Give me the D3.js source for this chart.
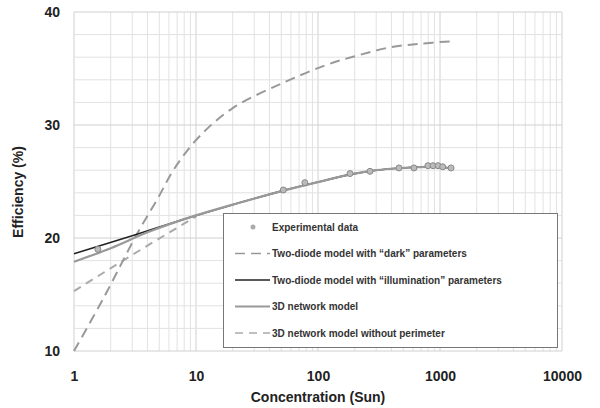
<!DOCTYPE html>
<html>
<head>
<meta charset="utf-8">
<script src="https://cdn.jsdelivr.net/npm/d3@7"></script>
<style>
body{margin:0;background:#fff}
text{font-family:"Liberation Sans",Arial,sans-serif}
</style>
</head>
<body>
<svg id="canvas" width="600" height="408"></svg>
<script>
// values
const xTicks=[1,10,100,1000,10000]
const yTicks=[10,20,30,40]

const expC=[1.57,52,78,183,267,461,612,796,877,963,1052,1232]
const expEff=[19.0,24.25,24.9,25.7,25.9,26.2,26.2,26.4,26.4,26.4,26.3,26.2]

const darkC=[1,1.73,3.3,4.8,6.7,10.7,20,51,116,219,400,700,1200]
const darkEff=[10,14.6,20.4,23.4,26.2,29.0,31.5,33.7,35.3,36.2,36.9,37.2,37.4]

const illumC=[1,3,10,20,50,100,200,300,500,800,1232]
const illumEff=[18.6,20.2,22.0,22.95,24.15,24.95,25.7,26.0,26.2,26.3,26.2]

const netC=[1,2,4,10,20,50,100,200,300,500,800,1232]
const netEff=[17.9,19.1,20.5,22.0,22.95,24.15,24.95,25.7,26.0,26.2,26.3,26.2]

const noPerC=[1,3,10]
const noPerEff=[15.3,18.5,21.9]

const legendLabels=["Experimental data",
  "Two-diode model with \u201cdark\u201d parameters",
  "Two-diode model with \u201cillumination\u201d parameters",
  "3D network model",
  "3D network model without perimeter"]

let canvas=d3.select("#canvas")
const x=d3.scaleLog().domain([1,10000]).range([74,562])
const y=d3.scaleLinear().domain([10,40]).range([351,12])

// grid
let minor=[]
for(let d=1;d<10000;d*=10) for(let k=1;k<10;k++) minor.push(d*k)
minor.push(10000)
canvas.append("g").selectAll("line").data(minor).enter().append("line")
  .attr("x1",d=>x(d)).attr("x2",d=>x(d)).attr("y1",y(10)).attr("y2",y(40))
  .attr("stroke",d=>xTicks.includes(d)?"#d0d0d0":"#e2e2e2").attr("stroke-width",1)
canvas.append("g").selectAll("line").data(d3.range(10,41,2)).enter().append("line")
  .attr("x1",x(1)).attr("x2",x(10000)).attr("y1",d=>y(d)).attr("y2",d=>y(d))
  .attr("stroke",d=>d%10==0?"#d0d0d0":"#e2e2e2").attr("stroke-width",1)

// axes
const xAxis=d3.axisBottom(x).tickValues(xTicks).tickFormat(d3.format("d")).tickSize(0).tickPadding(20)
canvas.append("g").attr("transform","translate(0,"+y(10)+")").call(xAxis)
  .call(g=>g.select(".domain").remove())
  .selectAll("text").attr("font-size",14).attr("font-weight","bold").attr("fill","#222")
const yAxis=d3.axisLeft(y).tickValues(yTicks).tickSize(0).tickPadding(14)
canvas.append("g").attr("transform","translate("+x(1)+",0)").call(yAxis)
  .call(g=>g.select(".domain").remove())
  .selectAll("text").attr("font-size",14).attr("font-weight","bold").attr("fill","#222")

canvas.append("text").attr("x",318).attr("y",402).attr("text-anchor","middle")
  .attr("font-size",14).attr("font-weight","bold").attr("fill","#222").text("Concentration (Sun)")
canvas.append("text").attr("transform","translate(23,192) rotate(-90)").attr("text-anchor","middle")
  .attr("font-size",14).attr("font-weight","bold").attr("fill","#222").text("Efficiency (%)")

const line=d3.line().x(d=>x(d[0])).y(d=>y(d[1])).curve(d3.curveMonotoneX)
const smooth=d3.line().x(d=>x(d[0])).y(d=>y(d[1])).curve(d3.curveCatmullRom.alpha(0.5))
const zip=(a,b)=>a.map((v,i)=>[v,b[i]])

const series=[
  {data:zip(noPerC,noPerEff),stroke:"#aaa",w:2,dash:"8,6",gen:line},
  {data:zip(darkC,darkEff),stroke:"#999",w:2,dash:"10,6",gen:smooth},
  {data:zip(illumC,illumEff),stroke:"#222",w:1.6,dash:null,gen:line},
  {data:zip(netC,netEff),stroke:"#999",w:2.2,dash:null,gen:line}
]
canvas.append("g").selectAll("path").data(series).enter().append("path")
  .attr("d",d=>d.gen(d.data)).attr("fill","none")
  .attr("stroke",d=>d.stroke).attr("stroke-width",d=>d.w)
  .attr("stroke-dasharray",d=>d.dash)

canvas.append("g").selectAll("circle").data(zip(expC,expEff)).enter().append("circle")
  .attr("cx",d=>x(d[0])).attr("cy",d=>y(d[1])).attr("r",3)
  .attr("fill","#bbb").attr("stroke","#888").attr("stroke-width",1)

// legend
let legend=canvas.append("g")
legend.append("rect").attr("x",223.5).attr("y",213.5).attr("width",334).attr("height",134)
  .attr("fill","#fff").attr("stroke","#777").attr("stroke-width",1)
const legStyle=[null,
  {stroke:"#999",w:1.5,dash:"10,6"},
  {stroke:"#222",w:1.6,dash:null},
  {stroke:"#999",w:1.8,dash:null},
  {stroke:"#aaa",w:1.5,dash:"8,6"}]
legendLabels.forEach((lab,i)=>{
  const ly=227+i*26.5
  if(i==0){
    legend.append("circle").attr("cx",253).attr("cy",ly).attr("r",2.5).attr("fill","#aaa")
  }else{
    const s=legStyle[i]
    legend.append("line").attr("x1",235).attr("x2",270).attr("y1",ly).attr("y2",ly)
      .attr("stroke",s.stroke).attr("stroke-width",s.w).attr("stroke-dasharray",s.dash)
  }
  legend.append("text").attr("x",272).attr("y",ly+3.5).attr("font-size",10)
    .attr("font-weight","bold").attr("fill","#333").text(lab)
})
</script>
</body>
</html>
